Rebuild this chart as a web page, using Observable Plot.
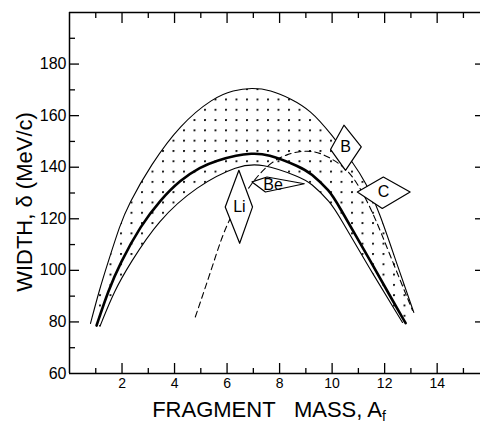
<!DOCTYPE html>
<html><head><meta charset="utf-8">
<script src="https://cdn.jsdelivr.net/npm/d3@7"></script>
<script src="https://cdn.jsdelivr.net/npm/@observablehq/plot@0.6"></script>
<style>body{margin:0;background:#fff}</style>
</head><body><div id="chart"></div>
<script>
// Outer envelope (thin solid, top of dotted band)
const outerX = [0.80, 1.13, 1.47, 1.92, 2.24, 3.10, 4.21, 5.48, 6.24, 6.95, 7.65, 8.41, 9.18, 9.94, 10.82, 11.27, 11.78, 12.48, 13.11];
const outerY = [79.4, 92.2, 103.2, 117.5, 125.5, 141.0, 156.5, 167.0, 169.9, 170.8, 170.0, 166.7, 162.1, 153.2, 141.5, 134.2, 123.3, 102.0, 83.7];
// Thick solid curve
const thickX = [1.03, 1.48, 1.92, 2.72, 3.45, 4.21, 4.98, 5.61, 6.38, 6.90, 7.52, 8.79, 9.18, 9.94, 10.13, 11.59, 12.23, 12.80];
const thickY = [78.6, 92.2, 102.7, 117.5, 127.2, 135.0, 140.1, 142.6, 144.7, 145.3, 145.3, 140.1, 137.8, 130.4, 127.2, 101.3, 89.6, 79.5];
// Inner thin solid curve (bottom of dotted band)
const innerX = [1.16, 1.71, 2.30, 3.37, 4.85, 6.43, 7.30, 8.79, 9.18, 9.94, 10.30, 11.39, 12.68];
const innerY = [78.3, 92.2, 102.6, 119.4, 132.8, 140.8, 141.6, 136.2, 134.0, 126.5, 120.5, 101.3, 79.8];
// Dashed curve
const dashX = [4.79, 5.48, 6.00, 6.95, 7.60, 8.29, 9.05, 9.60, 10.30, 10.82, 11.53, 12.23, 13.06];
const dashY = [81.9, 102.6, 119.4, 134.3, 141.5, 145.3, 146.6, 145.5, 141.4, 136.5, 123.3, 105.2, 84.5];
// Fragment labels (diamond boxes): vertices and text position, in data units
const boxLabels = ["Li", "Be", "B", "C"];
const boxVX = [[6.45, 6.97, 6.48, 5.93], [6.95, 7.52, 8.94, 7.46], [10.45, 11.11, 10.51, 9.94], [10.96, 11.95, 12.97, 11.91]];
const boxVY = [[138.8, 124.6, 110.5, 124.6], [134.3, 136.2, 133.6, 130.4], [156.3, 147.9, 138.8, 146.9], [130.4, 136.2, 130.4, 124.0]];
const boxTX = [6.47, 7.75, 10.51, 11.96];
const boxTY = [124.5, 133.2, 147.8, 130.3];
// Axis ticks
const xTickLabels = [2, 4, 6, 8, 10, 12, 14];
const xMinor = [1, 3, 5, 7, 9, 11, 13, 15];
const yTickLabels = [60, 80, 100, 120, 140, 160, 180];
const yMajorTicks = [80, 100, 120, 140, 160, 180];
const yMinor = [70, 90, 110, 130, 150, 170, 190];

const toPts = (xs, ys) => xs.map((x, i) => ({x, y: ys[i]}));
const outer = toPts(outerX, outerY);
const thick = toPts(thickX, thickY);
const inner = toPts(innerX, innerY);
const dashed = toPts(dashX, dashY);
const boxes = boxLabels.flatMap((lab, i) => boxVX[i].map((vx, j) => ({label: lab, x: vx, y: boxVY[i][j]})));
const boxText = boxLabels.map((lab, i) => ({label: lab, x: boxTX[i], y: boxTY[i]}));

const FH = 361, FW = 411;
const CURVE = "basis";
const plot = Plot.plot({
  width: 480, height: 425,
  marginLeft: 69, marginRight: 0, marginTop: 12, marginBottom: 52,
  style: {fontFamily: "'Liberation Sans', Arial, sans-serif", fontSize: "15px", background: "white", color: "black"},
  x: {domain: [0, 15.65]},
  y: {domain: [60, 200]},
  marks: [
    Plot.line(outer, {x: "x", y: "y", curve: CURVE, stroke: "black", strokeWidth: 1.1, className: "outer"}),
    Plot.line(inner, {x: "x", y: "y", curve: CURVE, stroke: "black", strokeWidth: 1.1, className: "inner"}),
    Plot.line(thick, {x: "x", y: "y", curve: CURVE, stroke: "black", strokeWidth: 2.6}),
    Plot.line(dashed, {x: "x", y: "y", curve: CURVE, stroke: "black", strokeWidth: 1.1, strokeDasharray: "6,4"}),
    Plot.line(boxes, {x: "x", y: "y", z: "label", curve: "linear-closed", fill: "white", stroke: "black", strokeWidth: 1.2}),
    Plot.text(boxText, {x: "x", y: "y", text: "label", fontSize: 16}),
    // frame
    Plot.ruleX([0], {stroke: "black", strokeWidth: 1.5}),
    Plot.ruleY([60, 200], {stroke: "black", strokeWidth: 1.5}),
    // ticks
    Plot.ruleX(xTickLabels, {insetTop: FH - 10, stroke: "black", strokeWidth: 1.3}),
    Plot.ruleX(xMinor, {insetTop: FH - 5, stroke: "black", strokeWidth: 1.3}),
    Plot.ruleX(xTickLabels, {insetBottom: FH - 11, stroke: "black", strokeWidth: 1.3}),
    Plot.ruleX(xMinor, {insetBottom: FH - 6, stroke: "black", strokeWidth: 1.3}),
    Plot.ruleY(yMajorTicks, {insetRight: FW - 10, stroke: "black", strokeWidth: 1.3}),
    Plot.ruleY(yMinor, {insetRight: FW - 6, stroke: "black", strokeWidth: 1.3}),
    Plot.ruleY(yMajorTicks, {insetLeft: FW - 5, stroke: "black", strokeWidth: 1.3}),
    Plot.axisX(xTickLabels, {tickSize: 0, tickPadding: 5, fontSize: 14, label: null}),
    Plot.axisY(yTickLabels, {tickSize: 0, tickPadding: 3, fontSize: 16, label: null}),
    Plot.text(["WIDTH, δ (MeV/c)"], {frameAnchor: "left", textAnchor: "middle", lineAnchor: "middle", rotate: -90, dx: -45, dy: 9, fontSize: 22}),
    Plot.text(["FRAGMENT\u00a0\u00a0\u00a0MASS, A"], {frameAnchor: "bottom", textAnchor: "middle", lineAnchor: "middle", dy: 36, dx: -6, fontSize: 22})
  ]
});

const ns = "http://www.w3.org/2000/svg";
// dot pattern for the shaded band
const defs = document.createElementNS(ns, "defs");
const pat = document.createElementNS(ns, "pattern");
pat.setAttribute("id", "dots");
pat.setAttribute("patternUnits", "userSpaceOnUse");
pat.setAttribute("x", "4");
pat.setAttribute("y", "5.3");
pat.setAttribute("width", "10.5");
pat.setAttribute("height", "10.3");
const c = document.createElementNS(ns, "circle");
c.setAttribute("cx", "1"); c.setAttribute("cy", "1"); c.setAttribute("r", "1.05");
c.setAttribute("fill", "black");
pat.appendChild(c); defs.appendChild(pat);
plot.insertBefore(defs, plot.firstChild);
document.getElementById("chart").appendChild(plot);

// band fill = outer path followed by reversed inner path (same smooth curves as drawn)
const outerPath = plot.querySelector("g.outer path");
const innerPath = plot.querySelector("g.inner path");
if (outerPath && innerPath) {
  const n = 300, pts = [];
  const L1 = outerPath.getTotalLength(), L2 = innerPath.getTotalLength();
  for (let i = 0; i <= n; i++) { const p = outerPath.getPointAtLength(L1 * i / n); pts.push([p.x.toFixed(2), p.y.toFixed(2)]); }
  for (let i = n; i >= 0; i--) { const p = innerPath.getPointAtLength(L2 * i / n); pts.push([p.x.toFixed(2), p.y.toFixed(2)]); }
  const band = document.createElementNS(ns, "path");
  band.setAttribute("d", "M" + pts.map(p => p.join(",")).join("L") + "Z");
  band.setAttribute("fill", "url(#dots)");
  const t = outerPath.parentNode.getAttribute("transform");
  if (t) band.setAttribute("transform", t);
  const gOuter = outerPath.parentNode;
  gOuter.parentNode.insertBefore(band, gOuter);
}

// subscript f on the x label
plot.querySelectorAll("text").forEach(t => {
  if (t.textContent.endsWith("MASS, A")) {
    const ts = document.createElementNS(ns, "tspan");
    ts.setAttribute("dy", "4");
    ts.setAttribute("font-size", "14");
    ts.textContent = "f";
    t.appendChild(ts);
  }
});
</script>
</body></html>
